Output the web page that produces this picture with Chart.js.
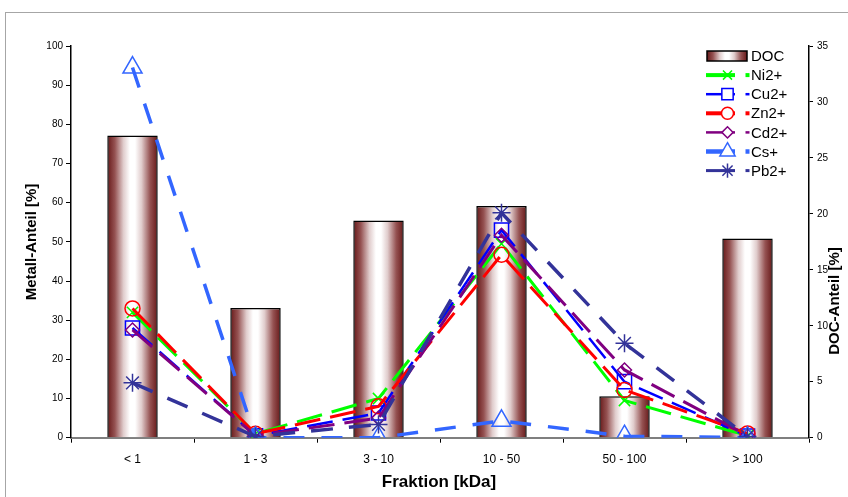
<!DOCTYPE html>
<html><head><meta charset="utf-8">
<script src="https://cdn.jsdelivr.net/npm/chart.js@4/dist/chart.umd.min.js"></script>
<style>
html,body{margin:0;padding:0;background:#fff;overflow:hidden;}
#wrap{position:relative;width:848px;height:497px;overflow:hidden;}
#frame{position:absolute;left:5px;top:12px;width:900px;height:600px;border:1px solid #a6a6a6;box-sizing:border-box;}
canvas{position:absolute;left:0;top:0;}
</style></head><body>
<div id="wrap"><div id="frame"></div><canvas id="c" width="848" height="497"></canvas></div>
<script>
const categories = ['< 1', '1 - 3', '3 - 10', '10 - 50', '50 - 100', '> 100'];
const docValues = [27.0, 11.6, 19.4, 20.7, 3.7, 17.8];
const niValues = [32, 1, 10, 49.5, 9.5, 0.5];
const cuValues = [28, 0.5, 6.3, 53, 14.3, 0.4];
const znValues = [33, 1, 8, 46.7, 12.2, 1.1];
const cdValues = [27.5, 0.5, 5, 51.7, 17.3, 0.5];
const csValues = [94.5, 0, 0, 4.3, 0.4, 0];
const pbValues = [14, 0.3, 3.4, 57.4, 24.1, 0.3];
const leftTicks = {min: 0, max: 100, step: 10};
const rightTicks = {min: 0, max: 35, step: 5};

const FONT = '"Liberation Sans", Arial, sans-serif';
const BAR_PCT = 0.41;

function makeGradient(ctx2d, x0, x1) {
  const g = ctx2d.createLinearGradient(x0, 0, x1, 0);
  g.addColorStop(0, '#661818');
  g.addColorStop(0.15, '#955252');
  g.addColorStop(0.32, '#e0cccc');
  g.addColorStop(0.45, '#ffffff');
  g.addColorStop(0.55, '#ffffff');
  g.addColorStop(0.68, '#e0cccc');
  g.addColorStop(0.85, '#955252');
  g.addColorStop(1, '#661818');
  return g;
}

function barGradient(context) {
  const chart = context.chart;
  const xs = chart.scales && chart.scales.x;
  if (!xs || context.dataIndex === undefined || !chart.chartArea) return '#8a3a3a';
  const cx = xs.getPixelForValue(context.dataIndex);
  const w = (xs.width / categories.length) * BAR_PCT;
  return makeGradient(chart.ctx, cx - w / 2, cx + w / 2);
}

const seriesDefs = [
  {label: 'Ni2+', data: niValues, color: '#00ff00', style: 'crossRot', r: 8, lw: 3, dash: [26, 10], legendLw: 4, order: 6},
  {label: 'Cu2+', data: cuValues, color: '#0000ff', style: 'rect', r: 10, lw: 2.5, dash: [26, 10], legendLw: 2.5, order: 5},
  {label: 'Zn2+', data: znValues, color: '#ff0000', style: 'circle', r: 7.5, lw: 3, dash: [26, 10], legendLw: 4, order: 4},
  {label: 'Cd2+', data: cdValues, color: '#800080', style: 'rectRot', r: 7, lw: 3, dash: [26, 10], legendLw: 2.5, order: 3},
  {label: 'Cs+', data: csValues, color: '#3366ff', style: 'triangle', r: 11, lw: 3.5, dash: [21, 17], legendLw: 4.5, order: 2},
  {label: 'Pb2+', data: pbValues, color: '#333399', style: 'star', r: 9, lw: 3.5, dash: [22, 16], legendLw: 3, order: 1}
];

const datasets = [{
  type: 'bar', label: 'DOC', data: docValues, yAxisID: 'y1',
  backgroundColor: barGradient, borderColor: '#000', borderWidth: 1.5,
  barPercentage: BAR_PCT, categoryPercentage: 1, order: 10
}].concat(seriesDefs.map(s => ({
  type: 'line', label: s.label, data: s.data, yAxisID: 'y',
  borderColor: s.color, borderWidth: s.lw, borderDash: s.dash,
  pointStyle: s.style, pointRadius: s.r, pointBorderWidth: 1.5,
  pointBorderColor: s.color, pointBackgroundColor: 'rgba(0,0,0,0)',
  pointHoverRadius: s.r, fill: false, tension: 0, order: s.order
})));

const extras = {
  id: 'extras',
  afterDraw(chart) {
    const ctx = chart.ctx;
    ctx.save();
    ctx.fillStyle = '#000';
    ctx.textAlign = 'center';
    ctx.textBaseline = 'middle';
    ctx.font = 'bold 15px ' + FONT;
    ctx.save(); ctx.translate(32, 242); ctx.rotate(-Math.PI / 2); ctx.fillText('Metall-Anteil [%]', 0, 0); ctx.restore();
    ctx.save(); ctx.translate(835, 301); ctx.rotate(-Math.PI / 2); ctx.fillText('DOC-Anteil [%]', 0, 0); ctx.restore();
    ctx.font = 'bold 17px ' + FONT;
    ctx.fillText('Fraktion [kDa]', 439, 482);
    const y0 = 56, dy = 19.1;
    ctx.textAlign = 'left';
    ctx.font = '15px ' + FONT;
    ctx.fillStyle = makeGradient(ctx, 707, 747);
    ctx.fillRect(707, 51, 40, 10);
    ctx.strokeStyle = '#000'; ctx.lineWidth = 1.5;
    ctx.strokeRect(707, 51, 40, 10);
    ctx.fillStyle = '#000';
    ctx.fillText('DOC', 751, y0 + 1);
    seriesDefs.forEach((s, i) => {
      const y = y0 + dy * (i + 1);
      ctx.strokeStyle = s.color;
      ctx.lineWidth = s.legendLw;
      ctx.setLineDash([]);
      ctx.beginPath(); ctx.moveTo(706, y); ctx.lineTo(735, y); ctx.stroke();
      ctx.beginPath(); ctx.moveTo(745.5, y); ctx.lineTo(749.5, y); ctx.stroke();
      ctx.fillStyle = '#fff';
      ctx.lineWidth = 1.5;
      Chart.helpers.drawPoint(ctx, {pointStyle: s.style, radius: s.r * 0.8, borderWidth: 1.5, rotation: 0}, 727.5, y);
      ctx.fillStyle = '#000';
      ctx.fillText(s.label, 751, y + 1);
    });
    ctx.restore();
  }
};

new Chart(document.getElementById('c'), {
  data: {labels: categories, datasets: datasets},
  options: {
    responsive: false, animation: false, devicePixelRatio: 1,
    layout: {padding: {top: 46, left: 0, right: 0, bottom: 0}},
    plugins: {legend: {display: false}, tooltip: {enabled: false}, title: {display: false}},
    scales: {
      x: {
        type: 'category', offset: true,
        grid: {offset: true, drawOnChartArea: false, drawTicks: true, tickLength: 5, color: '#000', lineWidth: 1},
        border: {display: true, color: '#7f7f7f', width: 2},
        ticks: {font: {family: FONT, size: 12}, color: '#000', padding: 10, maxRotation: 0, autoSkip: false},
        afterFit: s => { s.height = 59.3; }
      },
      y: {
        position: 'left', min: leftTicks.min, max: leftTicks.max,
        ticks: {stepSize: leftTicks.step, font: {family: FONT, size: 10}, color: '#000', padding: 3},
        grid: {drawOnChartArea: false, drawTicks: true, tickLength: 5, color: '#000', lineWidth: 1},
        border: {display: true, color: '#000', width: 1.5},
        afterFit: s => { s.width = 71; }
      },
      y1: {
        position: 'right', min: rightTicks.min, max: rightTicks.max,
        ticks: {stepSize: rightTicks.step, font: {family: FONT, size: 10}, color: '#000', padding: 4},
        grid: {drawOnChartArea: false, drawTicks: true, tickLength: 4, color: '#000', lineWidth: 1},
        border: {display: true, color: '#000', width: 1.5},
        afterFit: s => { s.width = 39; }
      }
    }
  },
  plugins: [extras]
});
</script>
</body></html>
